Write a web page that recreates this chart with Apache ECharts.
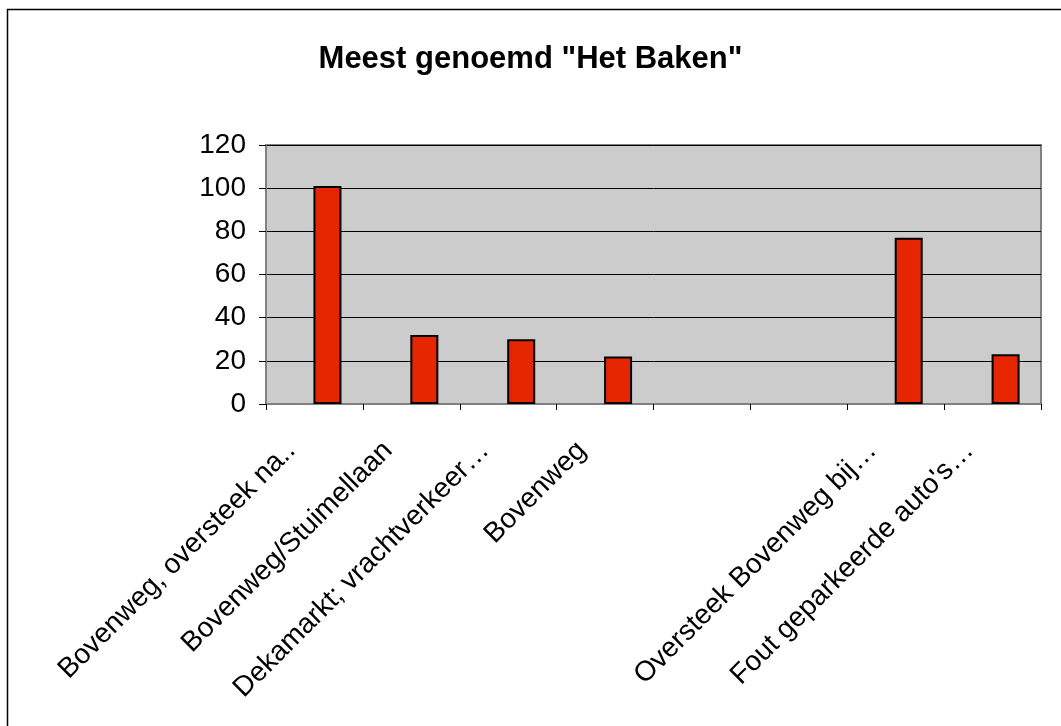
<!DOCTYPE html>
<html>
<head>
<meta charset="utf-8">
<script src="https://cdn.jsdelivr.net/npm/echarts@6/dist/echarts.min.js"></script>
<style>
html,body{margin:0;padding:0;background:#fff;}
#c{width:1061px;height:726px;}
</style>
</head>
<body>
<div id="c"></div>
<script>
const titleText = 'Meest genoemd "Het Baken"';
const categories = [
  'Bovenweg, oversteek na..',
  'Bovenweg/Stuimellaan',
  'Dekamarkt; vrachtverkeer…',
  'Bovenweg',
  '',
  '',
  'Oversteek Bovenweg bij…',
  "Fout geparkeerde auto's…"
];
// the original chart holds an empty first series that reserves the left slot of each cluster
const emptySeriesValues = [null, null, null, null, null, null, null, null];
const values = [101, 32, 30, 22, null, null, 77, 23];
const yTicks = [0, 20, 40, 60, 80, 100, 120];

const chart = echarts.init(document.getElementById('c'), null, {renderer: 'canvas'});
const font = '"Liberation Sans", Arial, sans-serif';
chart.setOption({
  animation: false,
  backgroundColor: '#ffffff',
  title: {
    text: titleText,
    left: 'center',
    top: 39,
    textStyle: {fontFamily: font, fontSize: 31, fontWeight: 'bold', color: '#000'}
  },
  graphic: [{
    type: 'rect',
    shape: {x: 7.5, y: 9.5, width: 1100, height: 800},
    style: {fill: 'none', stroke: '#000', lineWidth: 1.5},
    silent: true,
    z: -1
  }],
  grid: {
    left: 266, top: 145, right: 20, bottom: 322,
    show: true, backgroundColor: '#cccccc',
    borderColor: '#808080', borderWidth: 2
  },
  xAxis: {
    type: 'category',
    data: categories,
    axisLine: {show: true, lineStyle: {color: '#808080', width: 2}},
    axisTick: {show: true, alignWithLabel: false, length: 6, lineStyle: {color: '#000', width: 1}},
    axisLabel: {
      interval: 0, rotate: 45, margin: 19,
      padding: [0, 33, 0, 0],
      fontFamily: font, fontSize: 28, color: '#000'
    },
    splitLine: {show: false}
  },
  yAxis: {
    type: 'value',
    min: yTicks[0], max: yTicks[yTicks.length - 1], interval: 20,
    axisLine: {show: true, lineStyle: {color: '#808080', width: 2}},
    axisTick: {show: true, length: 7, lineStyle: {color: '#000', width: 1}},
    axisLabel: {margin: 20, fontFamily: font, fontSize: 28, color: '#000'},
    splitLine: {show: true, lineStyle: {color: '#000', width: 1}}
  },
  series: [{
    type: 'bar',
    data: emptySeriesValues,
    barWidth: 28,
    barGap: '-7%',
    itemStyle: {color: '#3333cc', borderColor: '#000', borderWidth: 2}
  }, {
    type: 'bar',
    data: values,
    barWidth: 28,
    barGap: '-7%',
    itemStyle: {color: '#e52600', borderColor: '#000', borderWidth: 2}
  }]
});
</script>
</body>
</html>
